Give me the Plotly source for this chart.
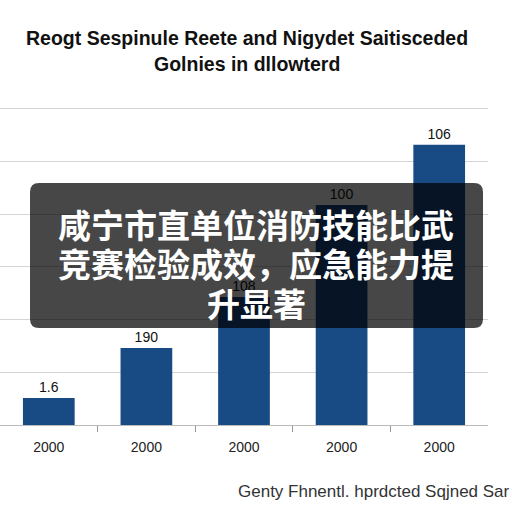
import plotly.graph_objects as go

# Data
years = ["2000", "2000", "2000", "2000", "2000"]
values = [10.2, 29.2, 48.6, 83.5, 106.3]
bar_labels = ["1.6", "190", "108", "100", "106"]
title_lines = ["Reogt Sespinule Reete and Nigydet Saitisceded", "Golnies in dllowterd"]
overlay_lines = ["咸宁市直单位消防技能比武", "竞赛检验成效，应急能力提", "升显著"]
source_text = "Genty Fhnentl. hprdcted Sqjned Sar"

W, H = 512, 512
ML, MR, MT, MB = 0, 24, 100, 87
PW, PH = W - ML - MR, H - MT - MB

def px(x):
    return (x - ML) / PW

def py(y):
    return (H - MB - y) / PH

xs = list(range(len(values)))

fig = go.Figure()
fig.add_trace(go.Bar(
    x=xs, y=values, width=0.53,
    marker=dict(color="#184a84", line=dict(width=0)),
    text=bar_labels, textposition="outside",
    textfont=dict(family="Liberation Sans, Arial", size=14, color="#111"),
    cliponaxis=False,
))

# rounded overlay box
x0, x1, y0, y1, r = 30, 483, 183, 328, 9
path = (f"M {px(x0+r)},{py(y0)} L {px(x1-r)},{py(y0)} Q {px(x1)},{py(y0)} {px(x1)},{py(y0+r)} "
        f"L {px(x1)},{py(y1-r)} Q {px(x1)},{py(y1)} {px(x1-r)},{py(y1)} "
        f"L {px(x0+r)},{py(y1)} Q {px(x0)},{py(y1)} {px(x0)},{py(y1-r)} "
        f"L {px(x0)},{py(y0+r)} Q {px(x0)},{py(y0)} {px(x0+r)},{py(y0)} Z")
fig.add_shape(type="path", path=path, xref="paper", yref="paper",
              fillcolor="rgba(0,0,0,0.72)", line=dict(width=0), layer="above")

annotations = []
for i, line in enumerate(title_lines):
    annotations.append(dict(text=f"<b>{line}</b>", x=px(247), y=py([38, 64][i]), xref="paper", yref="paper",
                            xanchor="center", yanchor="middle", showarrow=False,
                            font=dict(family="Liberation Sans, Arial", size=19.5, color="#111")))
for i, line in enumerate(overlay_lines):
    annotations.append(dict(text=f"<b>{line}</b>", x=px(256), y=py([224, 263, 303][i]),
                            xref="paper", yref="paper", xanchor="center", yanchor="middle",
                            showarrow=False,
                            font=dict(family="Noto Sans CJK SC", size=33, color="white")))
annotations.append(dict(text=source_text, x=px(236), y=py(491), xref="paper", yref="paper",
                        xanchor="left", yanchor="middle", showarrow=False,
                        font=dict(family="Liberation Sans, Arial", size=17, color="#333")))

fig.update_layout(
    width=W, height=H, margin=dict(l=ML, r=MR, t=MT, b=MB),
    paper_bgcolor="white", plot_bgcolor="white",
    showlegend=False, annotations=annotations,
    xaxis=dict(range=[-0.5, 4.5], tickvals=xs, ticktext=years, ticks="",
               ticklabelstandoff=12,
               tickfont=dict(family="Liberation Sans, Arial", size=14, color="#222"),
               showgrid=False, zeroline=False, showline=False,
               minor=dict(tickvals=[0.5, 1.5, 2.5, 3.5], ticks="outside", ticklen=6,
                          tickcolor="#999", tickwidth=1)),
    yaxis=dict(range=[0, 123.3], dtick=20, showticklabels=False, ticks="",
               showgrid=True, gridcolor="#d4d4d4", gridwidth=1,
               zeroline=True, zerolinecolor="#bbbbbb", zerolinewidth=1),
)

fig.write_html("out.html")
